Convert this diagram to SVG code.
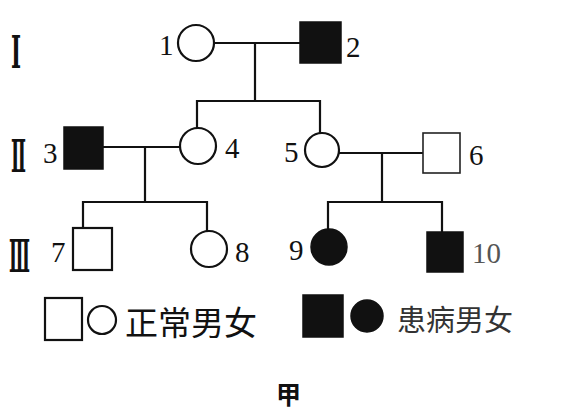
<svg xmlns="http://www.w3.org/2000/svg" width="563" height="419" viewBox="0 0 563 419">
<style>
.ln{stroke:#111;stroke-width:2.2;fill:none;stroke-linecap:square}
.open{fill:#fff;stroke:#111;stroke-width:2.2}
.thin{fill:#fff;stroke:#222;stroke-width:1.6}
.fill{fill:#111;stroke:#111;stroke-width:1.5}
.num{font-family:"Liberation Serif","DejaVu Serif",serif;font-size:29px;fill:#111}
.rom{font-family:"DejaVu Serif","Liberation Serif",serif;font-size:20px;font-weight:bold;fill:#111}
.cjk{font-family:"Noto Sans CJK SC","Noto Sans",sans-serif;fill:#111}
</style>
<rect width="563" height="419" fill="#fff"/>
<g id="generation-labels">
<text class="rom" transform="translate(11,68) scale(1,2.2)" textLength="10" lengthAdjust="spacingAndGlyphs">Ⅰ</text>
<text class="rom" transform="translate(11,172) scale(1,2.2)" textLength="15" lengthAdjust="spacingAndGlyphs">Ⅱ</text>
<text class="rom" transform="translate(9,272) scale(1,2.2)" textLength="21" lengthAdjust="spacingAndGlyphs">Ⅲ</text>
</g>
<g id="connectors">
<path class="ln" d="M214 43H300M255 43V101M197 101H320M197 101V128M320 101V133"/>
<path class="ln" d="M103 147H180M145 147V202M83 202H207M83 202V228M207 202V231"/>
<path class="ln" d="M339 153H423M382 153V202M328 202H442M328 202V229M442 202V232"/>
</g>
<g id="n1"><circle class="open" cx="196" cy="43" r="18"/><text class="num" x="159" y="55">1</text></g>
<g id="n2"><rect class="fill" x="300" y="22" width="41" height="41"/><text class="num" x="346" y="57">2</text></g>
<g id="n3"><rect class="fill" x="64" y="127" width="39" height="42"/><text class="num" x="43" y="163">3</text></g>
<g id="n4"><circle class="open" cx="198" cy="146" r="18"/><text class="num" x="225" y="158">4</text></g>
<g id="n5"><circle class="open" cx="322" cy="150" r="17"/><text class="num" x="284" y="162">5</text></g>
<g id="n6"><rect class="thin" x="423" y="133" width="37" height="40"/><text class="num" x="469" y="165">6</text></g>
<g id="n7"><rect class="open" x="73" y="228" width="39" height="42"/><text class="num" x="51" y="262">7</text></g>
<g id="n8"><circle class="open" cx="209" cy="249" r="18"/><text class="num" x="235" y="262">8</text></g>
<g id="n9"><circle class="fill" cx="329" cy="247" r="18"/><text class="num" x="289" y="260">9</text></g>
<g id="n10"><rect class="fill" x="427" y="232" width="36" height="40"/><text class="num" x="472" y="263" style="fill:#555">10</text></g>
<g id="legend-normal">
<rect class="open" x="45" y="298" width="37" height="42"/>
<circle class="open" cx="102" cy="320" r="14"/>
<text class="cjk" x="125" y="335" font-size="33">正常男女</text>
</g>
<g id="legend-affected">
<rect class="fill" x="303" y="295" width="40" height="42"/>
<circle class="fill" cx="367" cy="316" r="16"/>
<text class="cjk" x="397" y="331" font-size="29" style="fill:#333">患病男女</text>
</g>
<g id="caption"><text class="cjk" x="276" y="404" font-size="25" font-weight="bold">甲</text></g>
</svg>
